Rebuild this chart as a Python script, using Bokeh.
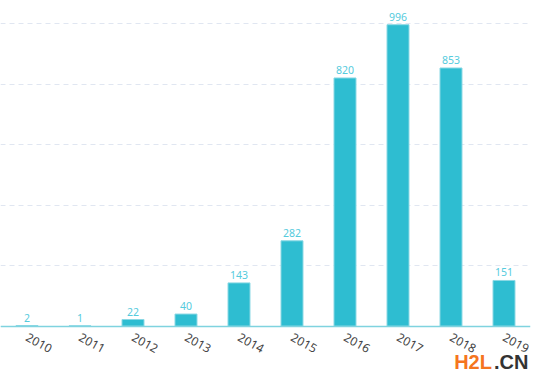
from bokeh.plotting import figure
from bokeh.models import ColumnDataSource, Range1d, Label, SingleIntervalTicker
from bokeh.core.properties import value
from bokeh.embed import file_html
from bokeh.resources import INLINE

years = ["2010", "2011", "2012", "2013", "2014", "2015", "2016", "2017", "2018", "2019"]
counts = [2, 1, 22, 40, 143, 282, 820, 996, 853, 151]
count_labels = [str(c) for c in counts]

src = ColumnDataSource(dict(year=years, count=counts, label=count_labels))

p = figure(x_range=years, y_range=Range1d(-163, 1076),
           width=533, height=375, output_backend="svg", toolbar_location=None,
           min_border_left=0, min_border_right=3, min_border_top=0, min_border_bottom=0)
p.outline_line_color = None
p.background_fill_color = "white"
p.border_fill_color = "white"

p.vbar(x="year", top="count", width=0.415, source=src,
       fill_color="#2ebdd1", line_color="#8ad8e4", line_width=1)

p.text(x="year", y="count", text="label", source=src,
       text_align="center", text_baseline="bottom", y_offset=-4,
       text_font=value("Noto Sans"), text_font_size="10.5px", text_color="#55cbdd")

p.yaxis.visible = False
p.ygrid.ticker = SingleIntervalTicker(interval=200)
p.ygrid.grid_line_color = "#e0e6f1"
p.ygrid.grid_line_dash = "5 4"
p.ygrid.grid_line_width = 1
p.xgrid.grid_line_color = None

p.xaxis.fixed_location = 0
p.xaxis.axis_line_color = "#7fd3df"
p.xaxis.axis_line_width = 1.5
p.xaxis.major_tick_line_color = None
p.xaxis.minor_tick_line_color = None
p.xaxis.major_label_orientation = -0.5
p.xaxis.major_label_text_font = "Noto Sans"
p.xaxis.major_label_text_font_size = "12px"
p.xaxis.major_label_text_color = "#444444"
p.xaxis.major_label_standoff = 4
p.x_range.range_padding = 0

p.add_layout(Label(x=8.56, y=-120, text="H2L", text_font="Liberation Sans",
                   text_font_style="bold", text_font_size="20px",
                   text_color="#f5751e", text_align="left", text_baseline="middle"))
p.add_layout(Label(x=9.31, y=-120, text=".CN", text_font="Liberation Sans",
                   text_font_style="bold", text_font_size="20px",
                   text_color="#333333", text_align="left", text_baseline="middle"))

open("out.html", "w").write(file_html(p, INLINE))
